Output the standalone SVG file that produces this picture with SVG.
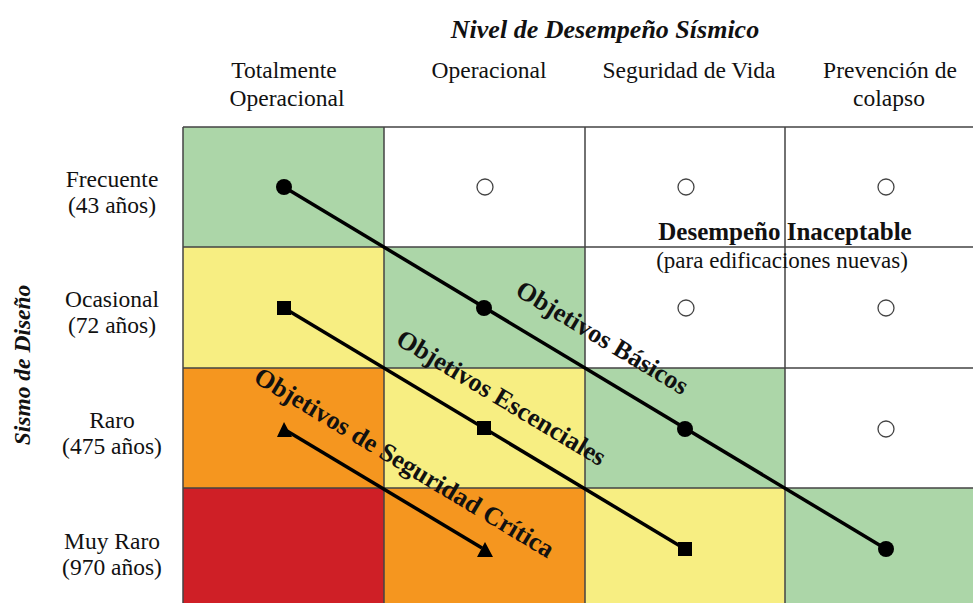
<svg xmlns="http://www.w3.org/2000/svg" width="973" height="603" viewBox="0 0 973 603">
<style>
.t{font-family:"Liberation Serif","Times New Roman",serif;fill:#111;}
.h{font-size:23.5px;text-anchor:middle;}
.b{font-weight:bold;}
.o{font-size:26px;font-weight:bold;text-anchor:middle;}
.g{fill:#acd6a8}.y{fill:#f7ee82}.or{fill:#f5961f}.r{fill:#cf1f26}
.grid{stroke:#444;stroke-width:1.5;fill:none}
.ln{stroke:#000;stroke-width:3.5;fill:none}
.e{fill:#fff;stroke:#444;stroke-width:1.3}
</style>
<rect width="973" height="603" fill="#fff"/>
<g id="cells">
<rect class="g" x="183" y="127" width="201" height="120"/>
<rect class="y" x="183" y="247" width="201" height="121"/>
<rect class="g" x="384" y="247" width="201" height="121"/>
<rect class="or" x="183" y="368" width="201" height="120"/>
<rect class="y" x="384" y="368" width="201" height="120"/>
<rect class="g" x="585" y="368" width="200" height="120"/>
<rect class="r" x="183" y="488" width="201" height="115"/>
<rect class="or" x="384" y="488" width="201" height="115"/>
<rect class="y" x="585" y="488" width="200" height="115"/>
<rect class="g" x="785" y="488" width="188" height="115"/>
</g>
<g id="grid" class="grid">
<path d="M183 127H973M183 247H973M183 368H973M183 488H973M183 127V603M384 127V603M585 127V603M785 127V603"/>
</g>
<g id="title"><text class="t b" x="605" y="38" font-size="26" font-style="italic" text-anchor="middle">Nivel de Desempeño Sísmico</text></g>
<g id="col1"><text class="t h" x="284" y="78">Totalmente</text><text class="t h" x="287" y="106">Operacional</text></g>
<g id="col2"><text class="t h" x="489" y="78">Operacional</text></g>
<g id="col3"><text class="t h" x="689" y="78">Seguridad de Vida</text></g>
<g id="col4"><text class="t h" x="890" y="78">Prevención de</text><text class="t h" x="889" y="106">colapso</text></g>
<g id="ylabel"><text class="t b" transform="translate(30,365) rotate(-90)" font-size="23.5" font-style="italic" text-anchor="middle">Sismo de Diseño</text></g>
<g id="row1"><text class="t h" x="112" y="187">Frecuente</text><text class="t h" x="112" y="213">(43 años)</text></g>
<g id="row2"><text class="t h" x="112" y="307">Ocasional</text><text class="t h" x="112" y="333">(72 años)</text></g>
<g id="row3"><text class="t h" x="112" y="428">Raro</text><text class="t h" x="112" y="454">(475 años)</text></g>
<g id="row4"><text class="t h" x="112" y="549">Muy Raro</text><text class="t h" x="112" y="575">(970 años)</text></g>
<g id="unacceptable"><text class="t b" x="785" y="240" font-size="25" text-anchor="middle">Desempeño Inaceptable</text><text class="t" x="782" y="268" font-size="23" text-anchor="middle">(para edificaciones nuevas)</text></g>
<g id="empty">
<circle class="e" cx="485" cy="187" r="8"/><circle class="e" cx="686" cy="187" r="8"/><circle class="e" cx="886" cy="187" r="8"/>
<circle class="e" cx="686" cy="308" r="8"/><circle class="e" cx="886" cy="308" r="8"/><circle class="e" cx="886" cy="429" r="8"/>
</g>
<g id="connectors">
<path class="ln" d="M284 187L886 549"/>
<path class="ln" d="M284 308L685 549"/>
<path class="ln" d="M287 431L482 548"/>
</g>
<g id="basic">
<circle cx="284" cy="187" r="8"/><circle cx="484" cy="308" r="8"/><circle cx="685" cy="429" r="8"/><circle cx="886" cy="549" r="8"/>
</g>
<g id="essential">
<rect x="277" y="301" width="14" height="14"/><rect x="477" y="421" width="14" height="14"/><rect x="678" y="542" width="14" height="14"/>
</g>
<g id="critical">
<path d="M284 422L277 437L292 437Z"/><path d="M485 542L477 557L493 557Z"/>
</g>
<g id="labels">
<text class="t o" transform="translate(598,345) rotate(31)">Objetivos Básicos</text>
<text class="t o" transform="translate(497,405) rotate(31)">Objetivos Escenciales</text>
<text class="t o" transform="translate(400,470) rotate(31)">Objetivos de Seguridad Crítica</text>
</g>
</svg>
